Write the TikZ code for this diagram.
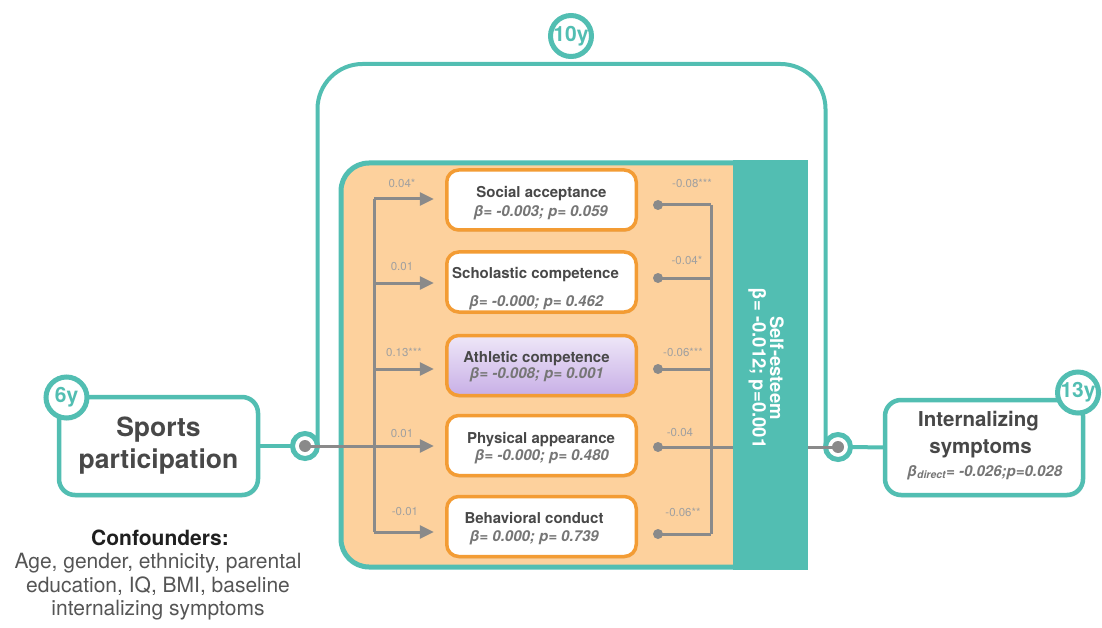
\documentclass[tikz,border=0pt]{standalone}
\usepackage{fontspec}
\setmainfont{TeX Gyre Heros}
\usetikzlibrary{arrows.meta,calc,shadows}
\pgfdeclarelayer{background}
\pgfsetlayers{background,main}
\definecolor{tealc}{RGB}{82,190,178}
\definecolor{peach}{RGB}{253,209,157}
\definecolor{oborder}{RGB}{243,156,52}
\definecolor{gcol}{RGB}{138,138,138}
\definecolor{dtext}{RGB}{72,72,72}
\definecolor{btext}{RGB}{118,118,118}
\definecolor{ctext}{RGB}{160,160,160}
\definecolor{lavtop}{RGB}{238,231,248}
\definecolor{lavbot}{RGB}{200,175,230}
\definecolor{conf}{RGB}{85,85,85}
\begin{document}
\begin{tikzpicture}[x=1pt,y=-1pt,
  every node/.style={inner sep=0pt,outer sep=0pt},
  softshadow/.style={drop shadow={opacity=0.18,shadow xshift=1pt,shadow yshift=-2.5pt}},
  mainbox/.style={draw=tealc,line width=4.5pt,fill=white,rounded corners=16pt,softshadow},
  medbox/.style={draw=oborder,line width=3.5pt,fill=white,rounded corners=12pt,minimum width=189.5pt,minimum height=60pt,
    drop shadow={opacity=0.15,shadow xshift=0.5pt,shadow yshift=-2pt}},
  badge/.style={circle,draw=tealc,line width=5pt,fill=white,minimum size=41pt,text=tealc,font=\bfseries\fontsize{21}{21}\selectfont,softshadow},
  junc/.style={circle,draw=tealc,line width=5pt,fill=white,minimum size=25pt},
  gdot/.style={circle,fill=gcol,minimum size=12pt},
  rdot/.style={circle,fill=gcol,minimum size=10pt},
  tline/.style={draw=tealc,line width=4pt},
  gl/.style={draw=gcol,line width=3pt},
  garrow/.style={gl,-{Triangle[length=14pt,width=13pt]},shorten >=13pt},
  coef/.style={text=ctext,font=\fontsize{11.5}{12}\selectfont,anchor=base},
  medname/.style={text=dtext,font=\bfseries\fontsize{15}{15}\selectfont,anchor=base},
  medbeta/.style={text=btext,font=\bfseries\itshape\fontsize{15}{15}\selectfont,anchor=base},
]
\useasboundingbox (0,0) rectangle (1102,628);

% ---------------- mediator panel ----------------
\node[draw=tealc,line width=5pt,fill=peach,rounded corners=28pt,
      minimum width=464pt,minimum height=404pt] (panel) at (573,365) {};

\node[medbox] (SA) at (541.5,200) {};
\node[medbox] (SC) at (541.5,282) {};
\node[medbox,top color=lavtop,bottom color=lavbot] (AC) at (541.5,365.5) {};
\node[medbox] (PA) at (541.5,445.5) {};
\node[medbox] (BC) at (541.5,526.5) {};

\node[medname] (SAn) at (541.5,198) {Social acceptance};
\node[medbeta] (SAb) at (540.5,217) {β= -0.003; p= 0.059};
\node[medname] (SCn) at (535.5,278) {Scholastic competence};
\node[medbeta] (SCb) at (536,306) {β= -0.000; p= 0.462};
\node[medname] (ACn) at (536.5,362) {Athletic competence};
\node[medbeta] (ACb) at (536.5,378) {β= -0.008; p= 0.001};
\node[medname] (PAn) at (541,443) {Physical appearance};
\node[medbeta] (PAb) at (541.5,460) {β= -0.000; p= 0.480};
\node[medname] (BCn) at (534,523) {Behavioral conduct};
\node[medbeta] (BCb) at (534,541.5) {β= 0.000; p= 0.739};

% ---------------- outer nodes ----------------
\node[mainbox,minimum width=199pt,minimum height=98pt,align=center,text=dtext,
      font=\bfseries\fontsize{26.5}{32}\selectfont] (SP) at (158.5,446) {Sports\\participation};
\node[badge] (B6) at (66.5,397.5) {6y};

\node[mainbox,minimum width=198pt,minimum height=95pt] (IS) at (984,447.5) {};
\node[anchor=base,text=dtext,font=\bfseries\fontsize{20.5}{20.5}\selectfont] (ISn1) at (978.5,426) {Internalizing};
\node[anchor=base,text=dtext,font=\bfseries\fontsize{20.5}{20.5}\selectfont] (ISn2) at (980.5,453) {symptoms};
\node[anchor=base,text=btext,font=\bfseries\itshape\fontsize{15}{15}\selectfont] (ISb) at (984.5,476) {β\textsubscript{direct}= -0.026;p=0.028};
\node[badge] (B13) at (1078,392.5) {13y};

\node[badge] (B10) at (571,36) {10y};

\node[junc] (J1) at (305,446) {};
\node[junc] (J2) at (838,447) {};

% ---------------- teal connectors (behind) ----------------
\coordinate (T) at (571,64);
\begin{pgfonlayer}{background}
\draw[tline,rounded corners=45pt] (J1.east) -- (J1.east |- T) -- (T -| J2.west) -- (J2.west);
\draw[tline] (SP.east) -- (J1.west);
\draw[tline] (J2.east) -- (IS.west);
\end{pgfonlayer}

% ---------------- left arrows ----------------
\coordinate (L1) at (374,199);
\coordinate (L2) at (374,283);
\coordinate (L3) at (374,369);
\coordinate (L5) at (374,532);
\draw[gl] (L1) -- (L5);
\draw[garrow] (L1) -- (L1 -| SA.west);
\draw[garrow] (L2) -- (L2 -| SC.west);
\draw[garrow] (L3) -- (L3 -| AC.west);
\draw[garrow] (J1.center) -- (J1 -| PA.west);
\draw[garrow] (L5) -- (L5 -| BC.west);

\node[coef] (c1) at (402,188) {0.04*};
\node[coef] (c2) at (402,270) {0.01};
\node[coef] (c3) at (404,356) {0.13***};
\node[coef] (c4) at (402,437) {0.01};
\node[coef] (c5) at (405,515) {-0.01};

% ---------------- right lines ----------------
\node[rdot] (D1) at (658,205) {};
\node[rdot] (D2) at (658,278) {};
\node[rdot] (D3) at (658,369) {};
\node[rdot] (D4) at (658,447) {};
\node[rdot] (D5) at (658,534) {};
\coordinate (R1) at (711,205);
\coordinate (R5) at (711,534);
\draw[gl] (R1) -- (R5);
\draw[gl] (D1.center) -- (D1 -| R1);
\draw[gl] (D2.center) -- (D2 -| R1);
\draw[gl] (D3.center) -- (D3 -| R1);
\draw[gl] (D5.center) -- (D5 -| R1);
\draw[gl] (D4.center) -- (J2.center);

\node[coef] (r1) at (692,188) {-0.08***};
\node[coef] (r2) at (687,264) {-0.04*};
\node[coef] (r3) at (683,356) {-0.06***};
\node[coef] (r4) at (680,436) {-0.04};
\node[coef] (r5) at (683,516) {-0.06**};

% ---------------- self-esteem strip ----------------
\fill[tealc] (733,160.5) rectangle (807.5,569.5);
\node[rotate=-90,align=center,text=white,font=\bfseries\fontsize{18.5}{17.5}\selectfont] (SE) at (766,368)
  {Self-esteem\\β= -0.012; p=0.001};

% junction dots
\node[gdot] (G1) at (J1) {};
\node[gdot] (G2) at (J2) {};

% ---------------- confounders ----------------
\node[anchor=base,text=black!88,font=\bfseries\fontsize{21}{21}\selectfont] (CF0) at (160,545) {Confounders:};
\node[anchor=base,text=conf,font=\fontsize{21}{21}\selectfont] (CF1) at (158,568) {Age, gender, ethnicity, parental};
\node[anchor=base,text=conf,font=\fontsize{21}{21}\selectfont] (CF2) at (158,592) {education, IQ, BMI, baseline};
\node[anchor=base,text=conf,font=\fontsize{21}{21}\selectfont] (CF3) at (158,615) {internalizing symptoms};
\end{tikzpicture}
\end{document}
